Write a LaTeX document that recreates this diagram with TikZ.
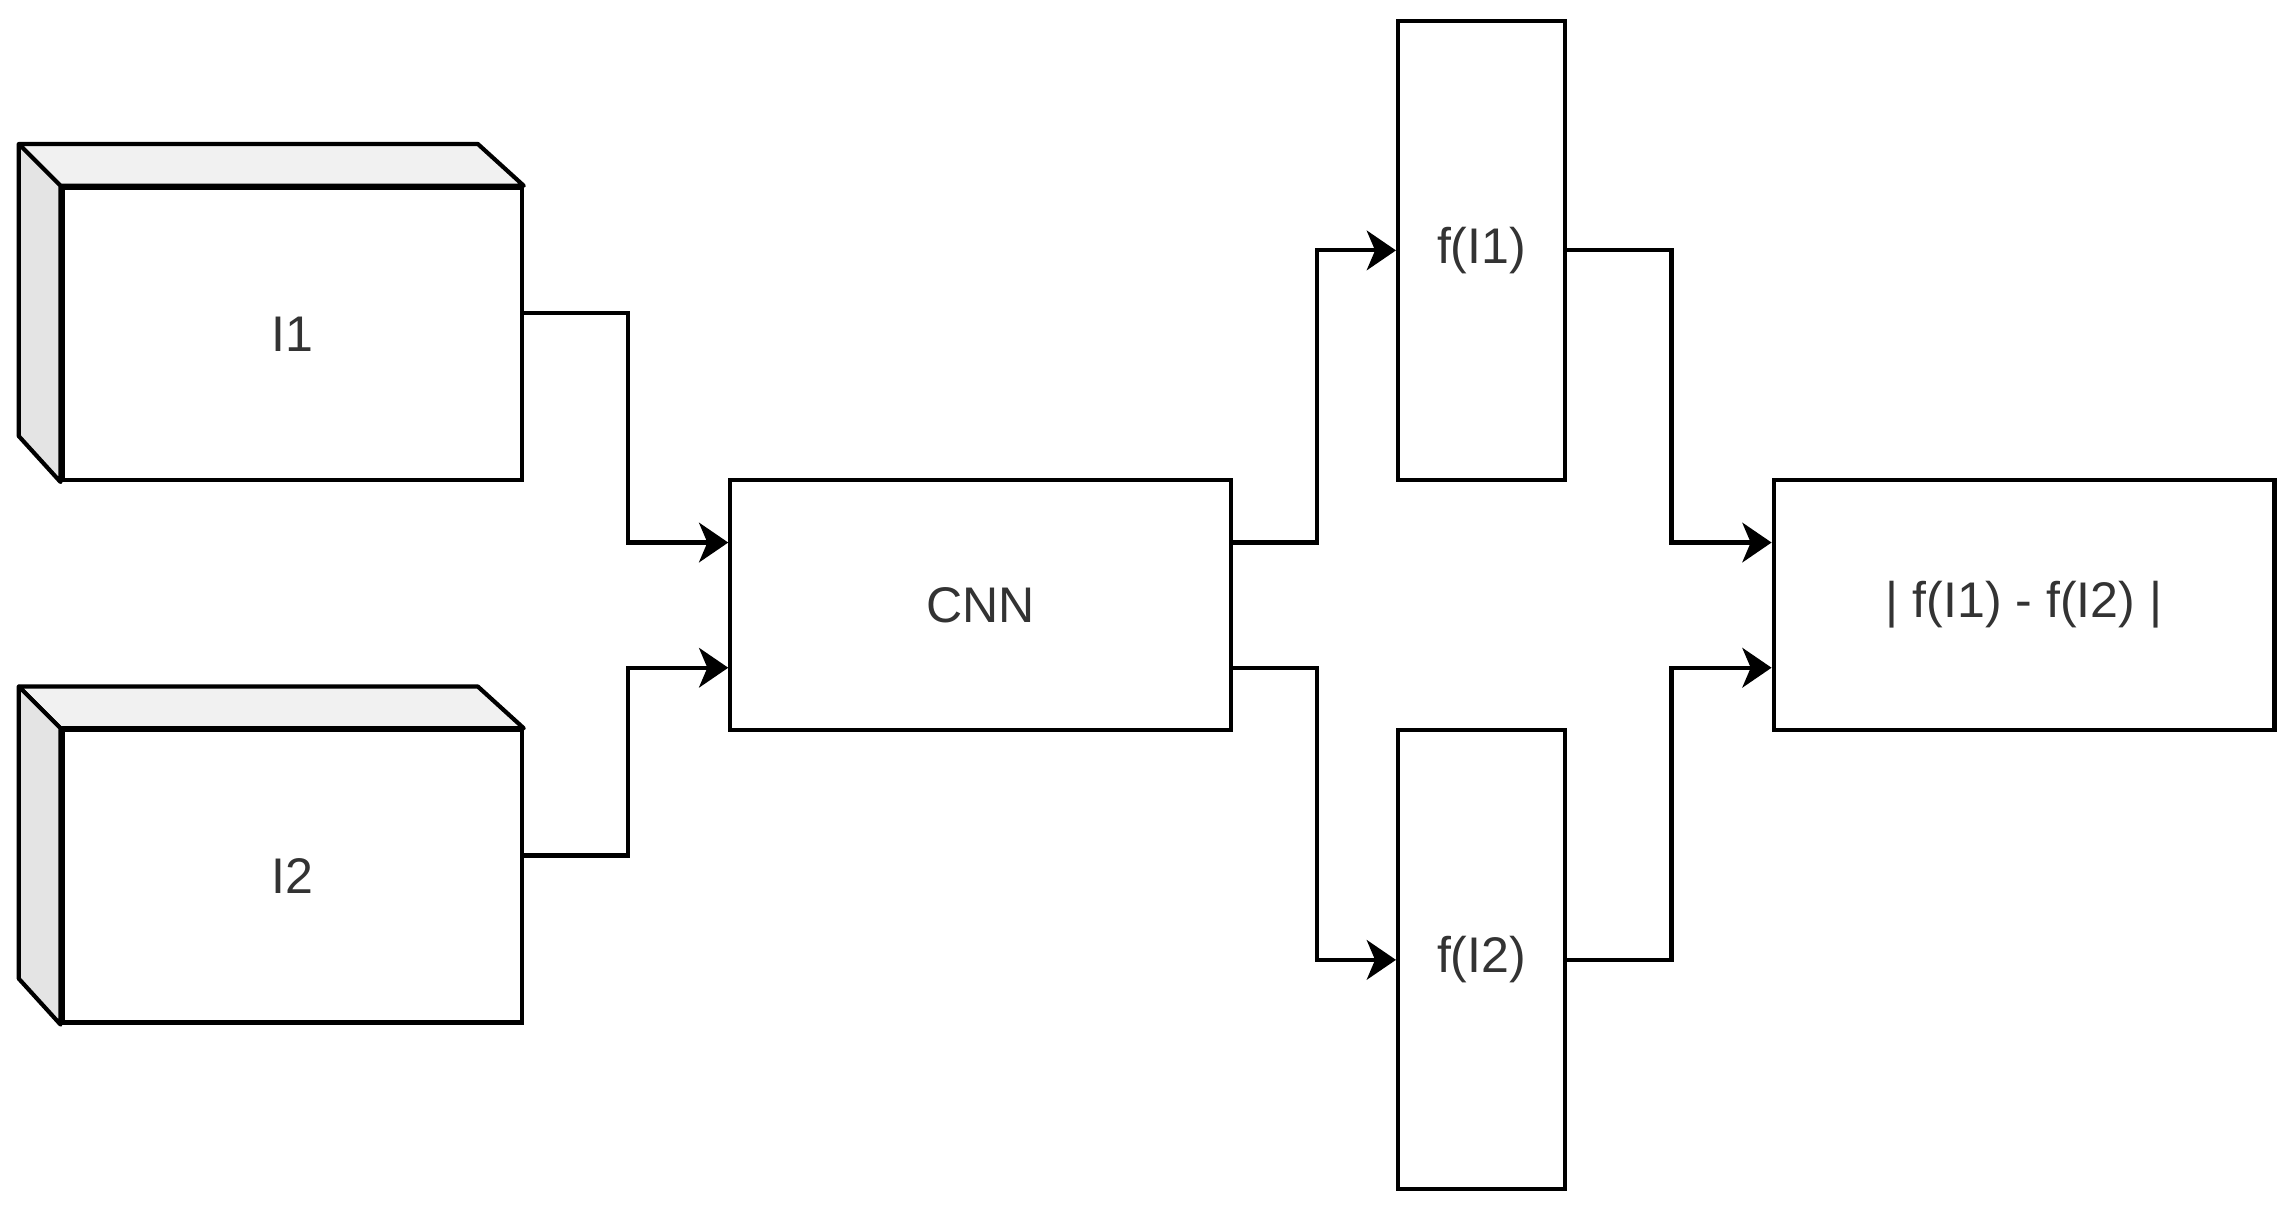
\documentclass[tikz,border=0pt]{standalone}
\usepackage{fontspec}
\setmainfont{Liberation Sans}
\usetikzlibrary{arrows.meta}
\definecolor{topface}{HTML}{F1F1F1}
\definecolor{sideface}{HTML}{E4E4E4}
\definecolor{txt}{HTML}{333333}
\tikzset{
  box/.style={draw=black, line width=1pt, fill=white, inner sep=0pt, font=\fontsize{12pt}{14pt}\selectfont, text=txt},
  face/.style={draw=black, line width=1pt, line join=round},
  arr/.style={draw=black, line width=1pt, -{Stealth[length=7pt,width=9.5pt,inset=2pt]}}
}
\begin{document}
\begin{tikzpicture}[x=1pt, y=-1pt]
\useasboundingbox (0,0) rectangle (548.25,289.46);
% 3D input boxes
\node[box, minimum width=110pt, minimum height=70pt] (I1) at (70,80) {I1};
\node[box, minimum width=110pt, minimum height=70pt] (I2) at (70,210) {I2};
\foreach \n in {I1,I2}{
  \draw[face, fill=topface] (\n.north west) -- ++(-10,-10) -- ++(110,0) -- (\n.north east) -- cycle;
  \draw[face, fill=sideface] (\n.north west) -- ++(-10,-10) -- ++(0,70) -- (\n.south west) -- cycle;
}
% CNN
\node[box, minimum width=120pt, minimum height=60pt] (CNN) at (235,145) {CNN};
% features
\node[box, minimum width=40pt, minimum height=110pt] (F1) at (355,60) {f(I1)};
\node[box, minimum width=40pt, minimum height=110pt] (F2) at (355,230) {f(I2)};
% result
\node[box, minimum width=120pt, minimum height=60pt] (R) at (485,145) {| f(I1) - f(I2) |};
% connectors
\draw[arr] ([yshift=5pt]I1.east) -- ++(25,0) |- ([yshift=15pt]CNN.west);
\draw[arr] ([yshift=5pt]I2.east) -- ++(25,0) |- ([yshift=-15pt]CNN.west);
\draw[arr] ([yshift=15pt]CNN.east) -- ++(20,0) |- (F1.west);
\draw[arr] ([yshift=-15pt]CNN.east) -- ++(20,0) |- (F2.west);
\draw[arr] (F1.east) -- ++(25,0) |- ([yshift=15pt]R.west);
\draw[arr] (F2.east) -- ++(25,0) |- ([yshift=-15pt]R.west);
\end{tikzpicture}
\end{document}
